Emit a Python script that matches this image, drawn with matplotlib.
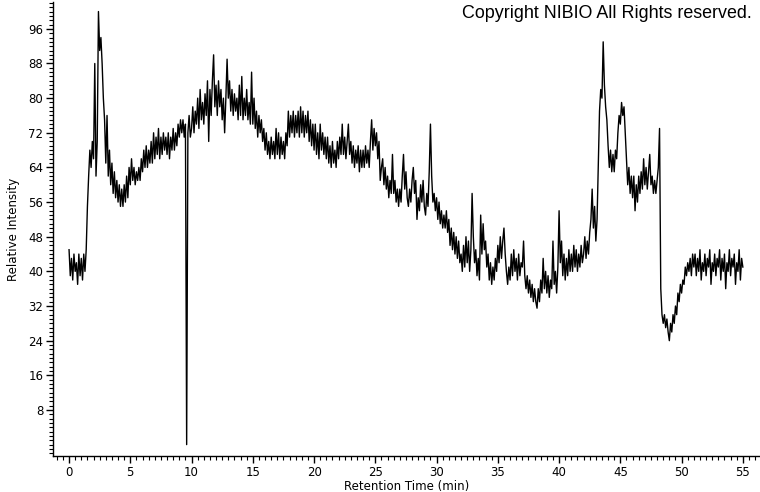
import numpy as np
import matplotlib
matplotlib.use("Agg")
import matplotlib.pyplot as plt
from matplotlib.ticker import MultipleLocator, FixedLocator

# Retention time axis: samples every 0.1 min from 0 to 55 min
t_start, t_step = 0.0, 0.1

# Relative intensity, one row per minute (10 samples each)
intensity = [
    45, 39, 43, 38, 44, 40, 42, 37, 44, 39,      # 0
    43, 38, 44, 40, 45, 55, 62, 68, 64, 70,      # 1
    66, 88, 62, 70, 100, 91, 94, 88, 80, 75,     # 2
    65, 76, 62, 68, 60, 65, 58, 63, 57, 61,      # 3
    56, 60, 55, 59, 55, 60, 56, 62, 57, 64,      # 4
    60, 66, 61, 64, 60, 63, 61, 64, 61, 66,      # 5
    63, 68, 64, 69, 64, 68, 65, 70, 65, 72,      # 6
    66, 71, 67, 73, 66, 71, 67, 72, 68, 71,      # 7
    67, 72, 66, 71, 68, 73, 68, 72, 69, 74,      # 8
    71, 75, 72, 75, 71, 74, 0, 72, 76, 71,       # 9
    73, 78, 72, 77, 74, 80, 73, 82, 75, 79,      # 10
    74, 81, 76, 84, 70, 82, 76, 84, 90, 78,      # 11
    83, 76, 84, 78, 82, 75, 80, 72, 80, 89,      # 12
    80, 84, 77, 82, 76, 81, 77, 80, 75, 83,      # 13
    76, 85, 75, 80, 76, 82, 75, 79, 74, 86,      # 14
    74, 80, 73, 77, 71, 76, 72, 75, 70, 73,      # 15
    68, 72, 67, 70, 66, 71, 67, 70, 66, 73,      # 16
    67, 72, 66, 71, 67, 70, 66, 72, 69, 77,      # 17
    71, 76, 72, 77, 71, 76, 72, 77, 71, 78,      # 18
    72, 77, 71, 76, 72, 77, 70, 75, 69, 74,      # 19
    68, 74, 67, 72, 66, 74, 68, 72, 67, 71,      # 20
    66, 71, 65, 69, 64, 70, 65, 68, 64, 70,      # 21
    66, 71, 67, 74, 67, 71, 66, 70, 74, 67,      # 22
    70, 65, 69, 64, 68, 65, 69, 63, 68, 64,      # 23
    68, 64, 69, 65, 68, 64, 70, 75, 68, 73,      # 24
    69, 72, 66, 70, 61, 64, 66, 60, 64, 59,      # 25
    62, 57, 61, 58, 67, 58, 61, 56, 59, 55,      # 26
    59, 56, 62, 67, 59, 63, 57, 55, 59, 56,      # 27
    61, 64, 58, 61, 52, 57, 54, 60, 56, 61,      # 28
    55, 53, 58, 55, 63, 74, 62, 56, 58, 54,      # 29
    57, 52, 56, 51, 54, 50, 53, 50, 54, 49,      # 30
    52, 46, 50, 45, 49, 44, 48, 43, 47, 42,      # 31
    44, 40, 46, 41, 48, 42, 47, 40, 45, 58,      # 32
    48, 42, 45, 39, 43, 38, 53, 44, 51, 45,      # 33
    47, 41, 44, 38, 42, 37, 41, 38, 43, 40,      # 34
    46, 42, 48, 43, 47, 50, 44, 40, 37, 41,      # 35
    38, 44, 39, 45, 40, 43, 38, 44, 39, 42,      # 36
    41, 47, 39, 36, 39, 35, 38, 34, 37, 33,      # 37
    36, 33, 31.5, 36, 33, 38, 35, 43, 36, 40,    # 38
    35, 39, 34, 38, 36, 47, 37, 40, 35, 41,      # 39
    54, 42, 47, 39, 44, 38, 43, 39, 45, 40,      # 40
    44, 40, 46, 41, 45, 40, 44, 41, 46, 42,      # 41
    44, 48, 43, 47, 44, 49, 52, 59, 50, 55,      # 42
    47, 52, 64, 77, 82, 80, 93, 83, 78, 75,      # 43
    69, 64, 68, 63, 67, 63, 68, 66, 72, 76,      # 44
    74, 79, 76, 78, 72, 66, 60, 64, 58, 62,      # 45
    57, 62, 54, 60, 56, 62, 58, 63, 59, 66,      # 46
    60, 64, 59, 63, 67, 60, 62, 58, 61, 58,      # 47
    61, 64, 73, 36, 30, 28, 30, 27, 29, 26,      # 48
    24, 28, 26, 30, 28, 32, 30, 35, 33, 37,      # 49
    35, 38, 37, 41, 39, 42, 40, 43, 39, 44,      # 50
    41, 44, 39, 43, 40, 45, 38, 42, 40, 44,      # 51
    39, 43, 41, 45, 37, 42, 40, 44, 39, 43,      # 52
    41, 45, 38, 43, 40, 44, 36, 42, 40, 45,      # 53
    39, 43, 41, 44, 37, 42, 40, 45, 38, 43,      # 54
    41,                                          # 55
]
retention_time = t_start + t_step * np.arange(len(intensity))

x_ticks = [0, 5, 10, 15, 20, 25, 30, 35, 40, 45, 50, 55]
y_ticks = [8, 16, 24, 32, 40, 48, 56, 64, 72, 80, 88, 96]

fig = plt.figure(figsize=(7.6, 4.92), dpi=100)
ax = fig.add_axes([53 / 760, 36 / 492, 707 / 760, 454 / 492])

ax.plot(retention_time, intensity, color="black", linewidth=1.0)

ax.set_xlim(-1.31, 56.4)
ax.set_ylim(-2.63, 102.2)

ax.xaxis.set_major_locator(FixedLocator(x_ticks))
ax.yaxis.set_major_locator(FixedLocator(y_ticks))
ax.xaxis.set_minor_locator(MultipleLocator(0.5))
ax.yaxis.set_minor_locator(MultipleLocator(1))

for s in ["top", "right"]:
    ax.spines[s].set_visible(False)
for s in ["left", "bottom"]:
    ax.spines[s].set_linewidth(1.0)

ax.tick_params(which="major", direction="out", length=5, width=1,
               labelsize=8.5, pad=2)
ax.tick_params(which="minor", direction="out", length=3, width=0.8)

ax.set_xlabel("Retention Time (min)", fontsize=8.5, labelpad=1)
ax.set_ylabel("Relative Intensity", fontsize=8.5, labelpad=6)

fig.text(752 / 760, 1 - 5 / 492, "Copyright NIBIO All Rights reserved.",
         ha="right", va="top", fontsize=12.9, family="Liberation Sans")

fig.savefig("out.png", dpi=100)
